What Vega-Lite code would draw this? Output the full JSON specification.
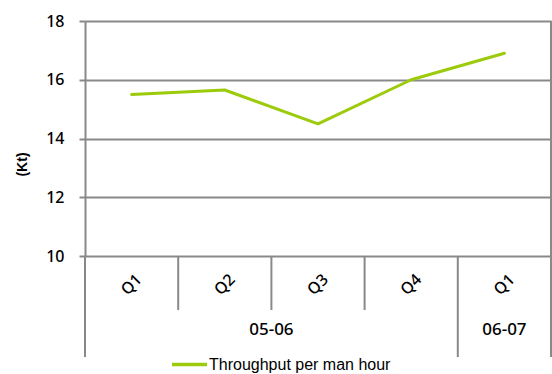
{
  "$schema": "https://vega.github.io/schema/vega-lite/v6.json",
  "width": 466,
  "height": 235,
  "autosize": {"type": "none"},
  "padding": {"left": 85, "top": 21, "right": 1, "bottom": 118},
  "background": "white",
  "config": {
    "view": {"stroke": null},
    "font": "Noto Sans"
  },
  "data": {
    "values": [
      {"period": "05-06 Q1", "year": "05-06", "quarter": "Q1", "kt": 15.5},
      {"period": "05-06 Q2", "year": "05-06", "quarter": "Q2", "kt": 15.65},
      {"period": "05-06 Q3", "year": "05-06", "quarter": "Q3", "kt": 14.5},
      {"period": "05-06 Q4", "year": "05-06", "quarter": "Q4", "kt": 16.0},
      {"period": "06-07 Q1", "year": "06-07", "quarter": "Q1", "kt": 16.9}
    ]
  },
  "encoding": {
    "x": {
      "field": "period",
      "type": "nominal",
      "sort": null,
      "scale": {"paddingInner": 0, "paddingOuter": 0},
      "axis": null
    }
  },
  "layer": [
    {
      "mark": {"type": "line", "strokeWidth": 3, "strokeCap": "round", "strokeJoin": "round"},
      "encoding": {
        "y": {
          "field": "kt",
          "type": "quantitative",
          "scale": {"domain": [10, 18], "nice": false, "zero": false},
          "axis": {
            "values": [10, 12, 14, 16, 18],
            "title": "(Kt)",
            "titleFont": "Liberation Sans",
            "titleFontSize": 14,
            "titleFontWeight": "bold",
            "titleColor": "black",
            "titleAngle": -90,
            "titleX": -63,
            "titleY": 143,
            "titleAlign": "center",
            "titleBaseline": "middle",
            "labelFont": "Noto Sans",
            "labelFontSize": 16,
            "labelFontWeight": 500,
            "labelColor": "black",
            "labelPadding": 15,
            "domainColor": "#898989",
            "domainWidth": 2,
            "tickColor": "#898989",
            "tickWidth": 2,
            "tickSize": 6,
            "grid": true,
            "gridColor": "#898989",
            "gridWidth": 2
          }
        },
        "color": {
          "datum": "Throughput per man hour",
          "type": "nominal",
          "scale": {"range": ["#9bcb0a"]},
          "legend": {
            "title": null,
            "orient": "none",
            "legendX": 85,
            "legendY": 324,
            "padding": 0,
            "symbolType": "stroke",
            "symbolSize": 1225,
            "symbolStrokeWidth": 3.5,
            "symbolStrokeColor": "#9bcb0a",
            "labelFont": "Liberation Sans",
            "labelFontSize": 16,
            "labelColor": "black",
            "labelLimit": 0,
            "labelBaseline": "middle",
            "labelOffset": 0,
            "encode": {
              "symbols": {
                "update": {
                  "stroke": {"value": "#9bcb0a"},
                  "strokeWidth": {"value": 3.5},
                  "opacity": {"value": 1}
                }
              }
            }
          }
        }
      }
    },
    {
      "transform": [{"filter": "datum.quarter !== 'Q1'"}],
      "mark": {"type": "rule", "color": "#898989", "strokeWidth": 2},
      "encoding": {
        "x": {"field": "period", "type": "nominal", "sort": null, "bandPosition": 0},
        "y": {"datum": 10, "type": "quantitative"},
        "y2": {"datum": 8.16}
      }
    },
    {
      "transform": [{"filter": "datum.quarter === 'Q1'"}],
      "mark": {"type": "rule", "color": "#898989", "strokeWidth": 2},
      "encoding": {
        "x": {"field": "period", "type": "nominal", "sort": null, "bandPosition": 0},
        "y": {"datum": 10, "type": "quantitative"},
        "y2": {"datum": 6.56}
      }
    },
    {
      "transform": [{"filter": "datum.period === '06-07 Q1'"}],
      "mark": {"type": "rule", "color": "#898989", "strokeWidth": 2},
      "encoding": {
        "x": {"field": "period", "type": "nominal", "sort": null, "bandPosition": 1},
        "y": {"datum": 18, "type": "quantitative"},
        "y2": {"datum": 6.56}
      }
    },
    {
      "mark": {"type": "text", "angle": -45, "align": "center", "baseline": "middle", "font": "Noto Sans", "fontSize": 16, "fontWeight": 500, "color": "black"},
      "encoding": {
        "x": {"field": "period", "type": "nominal", "sort": null, "bandPosition": 0.5},
        "y": {"datum": 9.02, "type": "quantitative"},
        "text": {"field": "quarter"}
      }
    },
    {
      "transform": [{"filter": "datum.period === '05-06 Q3'"}],
      "mark": {"type": "text", "align": "center", "baseline": "middle", "font": "Noto Sans", "fontSize": 17, "fontWeight": 500, "color": "black"},
      "encoding": {
        "x": {"field": "period", "type": "nominal", "sort": null, "bandPosition": 0},
        "y": {"datum": 7.48, "type": "quantitative"},
        "text": {"field": "year"}
      }
    },
    {
      "transform": [{"filter": "datum.period === '06-07 Q1'"}],
      "mark": {"type": "text", "align": "center", "baseline": "middle", "font": "Noto Sans", "fontSize": 17, "fontWeight": 500, "color": "black"},
      "encoding": {
        "x": {"field": "period", "type": "nominal", "sort": null, "bandPosition": 0.5},
        "y": {"datum": 7.48, "type": "quantitative"},
        "text": {"field": "year"}
      }
    }
  ]
}
